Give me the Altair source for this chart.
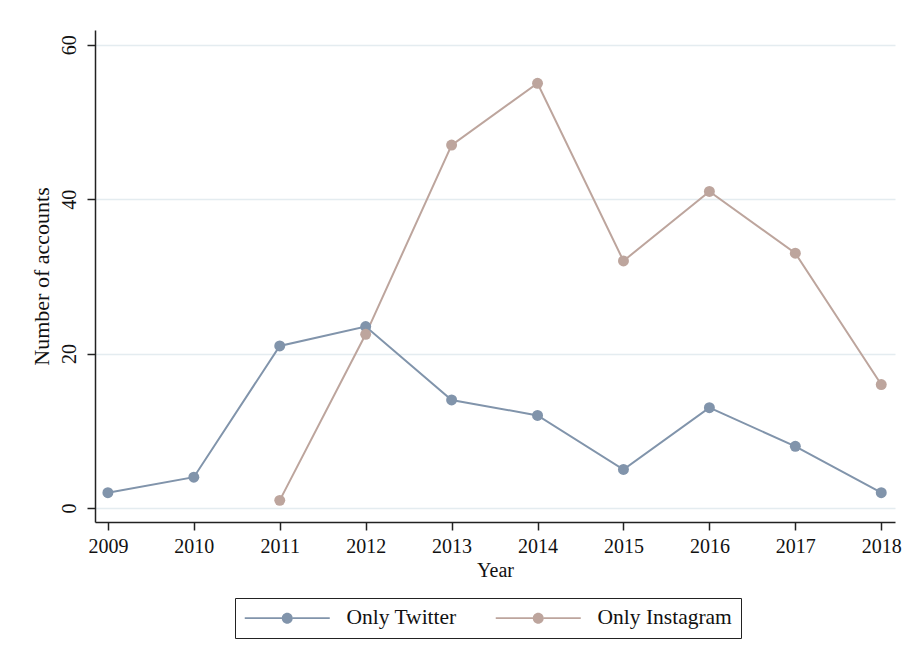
import altair as alt
import pandas as pd

years = list(range(2009, 2019))
twitter = [2, 4, 21, 23.5, 14, 12, 5, 13, 8, 2]
insta_years = list(range(2011, 2019))
instagram = [1, 22.5, 47, 55, 32, 41, 33, 16]
series_names = ["Only Twitter", "Only Instagram"]
colors = ["#8194ab", "#bda59d"]
y_ticks = [0, 20, 40, 60]

rows = [{"year": y, "value": v, "series": series_names[0]} for y, v in zip(years, twitter)]
rows += [{"year": y, "value": v, "series": series_names[1]} for y, v in zip(insta_years, instagram)]
df = pd.DataFrame(rows)

FONT = "Liberation Serif"
# legend symbol: line with a dot, drawn to the right of the symbol slot
SYM = ("M-1,-0.09H2.7V0.09H-1Z M3.8,-0.09H7.5V0.09H3.8Z "
       "M3.8,0A0.55,0.55 0 1,1 2.7,0A0.55,0.55 0 1,1 3.8,0Z")

color = alt.Color(
    "series:N",
    scale=alt.Scale(domain=series_names, range=colors),
    legend=alt.Legend(
        title=None, orient="none", legendX=140, legendY=568, direction="horizontal",
        columns=2, symbolType=SYM, symbolSize=400, symbolStrokeWidth=0,
        labelFont=FONT, labelFontSize=21.5, labelColor="#111", labelOffset=81,
        columnPadding=38, padding=9, strokeColor="#222",
    ),
)

base = alt.Chart(df).encode(
    x=alt.X("year:Q", scale=alt.Scale(domain=[2008.85, 2018.16], nice=False, zero=False),
            axis=alt.Axis(values=years, format="d", title="Year", grid=False,
                          labelFontSize=20, titleFontSize=20, labelPadding=6, titlePadding=4,
                          tickSize=8)),
    y=alt.Y("value:Q", scale=alt.Scale(domain=[-1.8, 61.9], nice=False, zero=False),
            axis=alt.Axis(values=y_ticks, title="Number of accounts", grid=True,
                          gridColor="#e4ecf0", gridWidth=1.5, labelAngle=270,
                          labelAlign="center", labelBaseline="bottom",
                          labelFontSize=20, titleFontSize=22, labelPadding=8,
                          titlePadding=6, tickSize=8)),
    color=color,
)

lines = base.mark_line(strokeWidth=2)
points = base.mark_point(filled=True, size=120, opacity=1)

chart = alt.layer(lines, points).properties(
    width=800, height=492,
    autosize=alt.AutoSizeParams(type="none"),
    padding={"left": 87, "top": 22, "right": 14, "bottom": 133},
).configure_view(stroke=None).configure_axis(
    labelFont=FONT, titleFont=FONT, labelColor="#111", titleColor="#111",
    titleFontWeight="normal", domainColor="#222", tickColor="#222",
    domainWidth=1.5, tickWidth=1.5,
)

chart.save("out.html", embed_options={"renderer": "svg", "actions": False})
